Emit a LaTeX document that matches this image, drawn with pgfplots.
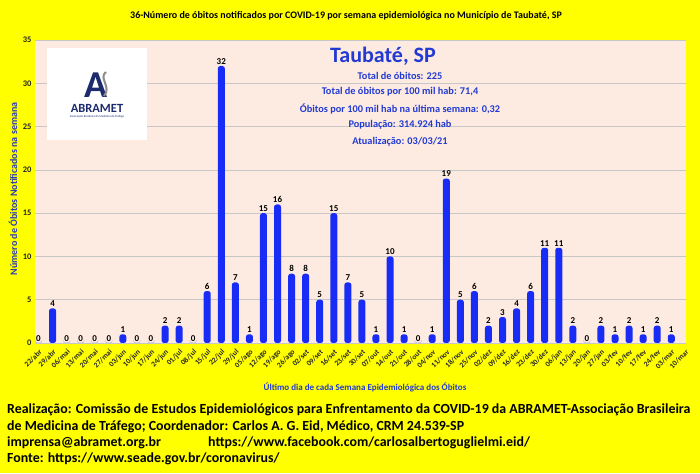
\documentclass[border=0pt]{standalone}
\usepackage{pgfplots}
\pgfplotsset{compat=1.18}
\usepackage{fontspec}
\setmainfont{Carlito}
\definecolor{bgyellow}{RGB}{255,255,0}
\definecolor{plotbg}{RGB}{253,235,225}
\definecolor{barblue}{RGB}{24,44,245}
\definecolor{txtblue}{RGB}{34,58,210}
\definecolor{labblue}{RGB}{42,62,178}
\definecolor{navy}{RGB}{28,42,110}

\begin{document}
\begin{tikzpicture}[x=1pt,y=1pt]
\fill[bgyellow] (0,0) rectangle (700,473);
\begin{axis}[
  at={(35pt,130pt)}, anchor=south west,
  width=651pt, height=303pt, scale only axis,
  axis background/.style={fill=plotbg},
  ymin=0, ymax=35, ytick={0,5,...,35},
  xmin=-0.25, xmax=46.05,
  xtick={0,...,46},
  xticklabels={22/abr,29/abr,06/mai,13/mai,20/mai,27/mai,03/jun,10/jun,17/jun,24/jun,01/jul,08/jul,15/jul,22/jul,29/jul,05/ago,12/ago,19/ago,26/ago,02/set,09/set,16/set,23/set,30/set,07/out,14/out,21/out,28/out,04/nov,11/nov,18/nov,25/nov,02/dez,09/dez,16/dez,23/dez,30/dez,06/jan,13/jan,20/jan,27/jan,03/fev,10/fev,17/fev,24/fev,03/mar,10/mar},
  x tick label style={rotate=45, anchor=north east, font=\bfseries\fontsize{7.5}{8}\selectfont, text=black!85, inner sep=1pt},
  y tick label style={font=\bfseries\fontsize{8.5}{9}\selectfont, text=black!85},
  /pgf/number format/assume math mode=true,
  ymajorgrids, major grid style={draw=black!22, line width=0.6pt},
  axis line style={draw=none},
  tick style={draw=none},
  ybar, bar width=7pt,
  nodes near coords,
  every node near coord/.append style={font=\bfseries\fontsize{9}{10}\selectfont, text=black, inner sep=1.5pt},
]
\addplot[fill=barblue, draw=none, rounded corners=2.5pt] coordinates {
(0,0) (1,4) (2,0) (3,0) (4,0) (5,0) (6,1) (7,0) (8,0) (9,2) (10,2) (11,0)
(12,6) (13,32) (14,7) (15,1) (16,15) (17,16) (18,8) (19,8) (20,5) (21,15)
(22,7) (23,5) (24,1) (25,10) (26,1) (27,0) (28,1) (29,19) (30,5) (31,6)
(32,2) (33,3) (34,4) (35,6) (36,11) (37,11) (38,2) (39,0) (40,2) (41,1)
(42,2) (43,1) (44,2) (45,1)
};
\end{axis}
% title
\node[font=\bfseries\fontsize{10}{11}\selectfont] at (346,457) {36-Número de óbitos notificados por COVID-19 por semana epidemiológica no Município de Taubaté, SP};
% axis labels
\node[rotate=90, text=labblue, font=\bfseries\fontsize{10}{12}\selectfont] at (13,284) {Número de Óbitos Notificados na semana};
\node[text=txtblue, font=\bfseries\fontsize{9}{10}\selectfont] at (365,86) {Último dia de cada Semana Epidemiológica dos Óbitos};
% logo
\fill[white] (47,333) rectangle (147,425);
\node[text=navy, font=\bfseries\fontsize{38}{38}\selectfont, inner sep=0pt] at (96,388) {A};
\draw[black!45, line width=2pt] (106,401) .. controls (98,395) and (112,386) .. (104,377);
\node[text=navy, font=\bfseries\fontsize{12.5}{13}\selectfont, inner sep=0pt] at (97,365) {ABRAMET};
\node[text=navy, font=\fontsize{3}{3}\selectfont, inner sep=0pt] at (97,356) {Associação Brasileira de Medicina de Tráfego};
% info block
\begin{scope}[text=txtblue]
\node[font=\bfseries\fontsize{22}{24}\selectfont] at (383,417) {Taubaté, SP};
\node[font=\bfseries\fontsize{10.3}{12}\selectfont] at (400,397) {Total de óbitos: 225};
\node[font=\bfseries\fontsize{10.3}{12}\selectfont] at (400,381) {Total de óbitos por 100 mil hab: 71,4};
\node[font=\bfseries\fontsize{10.3}{12}\selectfont] at (400,364) {Óbitos por 100 mil hab na última semana: 0,32};
\node[font=\bfseries\fontsize{10.3}{12}\selectfont] at (400,348) {População: 314.924 hab};
\node[font=\bfseries\fontsize{10.3}{12}\selectfont] at (400,331) {Atualização: 03/03/21};
\end{scope}
% footer
\begin{scope}[font=\bfseries\fontsize{13.9}{15}\selectfont]
\node[anchor=west, inner sep=0pt] at (7,63) {Realização: Comissão de Estudos Epidemiológicos para Enfrentamento da COVID-19 da ABRAMET-Associação Brasileira};
\node[anchor=west, inner sep=0pt] at (7,46) {de Medicina de Tráfego; Coordenador: Carlos A. G. Eid, Médico, CRM 24.539-SP};
\node[anchor=west, inner sep=0pt] at (7,30) {imprensa@abramet.org.br};
\node[anchor=west, inner sep=0pt] at (208,30) {https://www.facebook.com/carlosalbertoguglielmi.eid/};
\node[anchor=west, inner sep=0pt] at (7,14) {Fonte: https://www.seade.gov.br/coronavirus/};
\end{scope}
\end{tikzpicture}
\end{document}
